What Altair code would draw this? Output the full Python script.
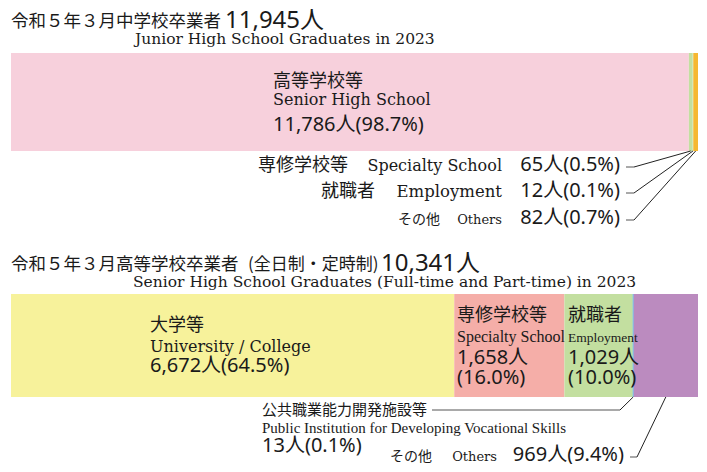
import altair as alt
import pandas as pd

# ---------------- data ----------------
jh_total = 11945
jh_categories = ["高等学校等", "専修学校等", "就職者", "その他"]
jh_categories_en = ["Senior High School", "Specialty School", "Employment", "Others"]
jh_values = [11786, 65, 12, 82]
jh_percent = [98.7, 0.5, 0.1, 0.7]
jh_colors = ["#f7d0dc", "#c3dfa0", "#c3dfa0", "#f6b731"]

hs_total = 10341
hs_categories = ["大学等", "専修学校等", "就職者", "公共職業能力開発施設等", "その他"]
hs_categories_en = ["University / College", "Specialty School", "Employment",
                    "Public Institution for Developing Vocational Skills", "Others"]
hs_values = [6672, 1658, 1029, 13, 969]
hs_percent = [64.5, 16.0, 10.0, 0.1, 9.4]
hs_colors = ["#f7f29b", "#f5aea8", "#c3dfa0", "#2aa8e0", "#bb8bbf"]

JP = "Noto Sans CJK JP"
NUM = "Noto Sans, Noto Sans CJK JP"
SERIF = "DejaVu Serif"
NSERIF = "Liberation Serif"
INK = "#1a1a1a"

# page-pixel -> chart-pixel (8px page margin, 6px top padding)
OX, OY = 8, 14


def X(x):
    return x - OX


def Y(y):
    return y - OY


def segments(values, total, colors):
    rows, acc = [], 0
    for v, c in zip(values, colors):
        rows.append({"start": acc / total, "end": (acc + v) / total,
                     "mid": (acc + v / 2) / total, "color": c})
        acc += v
    return pd.DataFrame(rows)


jh_df = segments(jh_values, jh_total, jh_colors)
hs_df = segments(hs_values, hs_total, hs_colors)

xscale = alt.Scale(domain=[0, 1], range=[X(11), X(698)])
one = pd.DataFrame({"k": [0]})


def lab(v, p):
    return f"{v:,}人({p}%)"


def txt(s, x, y, size, font=JP, align="left"):
    return alt.Chart(one).mark_text(text=s, font=font, fontSize=size, align=align,
                                    baseline="alphabetic", color=INK).encode(
        x=alt.value(X(x)), y=alt.value(Y(y)))


def seg(x1, y1, x2, y2, color="#555"):
    return alt.Chart(one).mark_rule(color=color, strokeWidth=1).encode(
        x=alt.value(X(x1)), y=alt.value(Y(y1)), x2=alt.value(X(x2)), y2=alt.value(Y(y2)))


def leader(mid, ybar, x2, y2):
    return alt.Chart(pd.DataFrame({"mid": [mid]})).mark_rule(color="#222", strokeWidth=1).encode(
        x=alt.X("mid:Q", scale=xscale, axis=None), y=alt.value(Y(ybar)),
        x2=alt.value(X(x2)), y2=alt.value(Y(y2)))


def bar(df, y1, y2):
    return alt.Chart(df).mark_rect().encode(
        x=alt.X("start:Q", scale=xscale, axis=None), x2="end:Q",
        y=alt.value(Y(y1)), y2=alt.value(Y(y2)),
        color=alt.Color("color:N", scale=None))


layers = []
# ---- junior high ----
layers.append(bar(jh_df, 53, 151))
layers += [
    txt("令和５年３月中学校卒業者", 11, 27, 17.5),
    txt(f"{jh_total:,}人", 225, 28, 24, NUM),
    txt("Junior High School Graduates in 2023", 135, 44, 15.5, SERIF),
    txt(jh_categories[0], 273, 87, 18),
    txt(jh_categories_en[0], 273, 105, 16, SERIF),
    txt(lab(jh_values[0], jh_percent[0]), 273, 131, 20, NUM),
]
rows_y = [171, 197, 224]
jp_right = [348, 375, 440]
jp_size = [18, 18, 14]
en_size = [16, 16.5, 13]
for i in range(3):
    k = i + 1
    layers += [
        txt(jh_categories[k], jp_right[i], rows_y[i], jp_size[i], align="right"),
        txt(jh_categories_en[k], 502, rows_y[i], en_size[i], SERIF, align="right"),
        txt(lab(jh_values[k], jh_percent[k]), 620, rows_y[i], 20, NUM, align="right"),
        seg(626, rows_y[i] - 4, 634, rows_y[i] - 4),
        leader(jh_df["mid"][k], 151, 634, rows_y[i] - 4),
    ]

# ---- senior high ----
layers.append(bar(hs_df, 294, 397))
layers += [
    txt("令和５年３月高等学校卒業者", 11, 270, 17.5),
    txt("(全日制・定時制)", 248, 270, 17),
    txt(f"{hs_total:,}人", 381, 271, 24, NUM),
    txt("Senior High School Graduates (Full-time and Part-time) in 2023", 133, 287, 15.5, SERIF),
    txt(hs_categories[0], 150, 331, 18),
    txt(hs_categories_en[0], 150, 352, 16, SERIF),
    txt(lab(hs_values[0], hs_percent[0]), 150, 372, 20, NUM),
    txt(hs_categories[1], 457, 321, 18),
    txt(hs_categories_en[1], 457, 342, 16, NSERIF),
    txt(f"{hs_values[1]:,}人", 457, 364, 20, NUM),
    txt(f"({hs_percent[1]}%)", 457, 384, 20, NUM),
    txt(hs_categories[2], 568, 321, 18),
    txt(hs_categories_en[2], 568, 342, 13.5, NSERIF),
    txt(f"{hs_values[2]:,}人", 568, 364, 20, NUM),
    txt(f"({hs_percent[2]}%)", 568, 384, 20, NUM),
    txt(hs_categories[3], 262, 415, 15),
    txt(hs_categories_en[3], 262, 433, 15, NSERIF),
    txt(lab(hs_values[3], hs_percent[3]), 262, 452, 20, NUM),
    seg(432, 410, 620, 410),
    leader(hs_df["mid"][3], 397, 620, 410),
    txt(hs_categories[4], 432, 461, 14, align="right"),
    txt(hs_categories_en[4], 497, 461, 13, SERIF, align="right"),
    txt(lab(hs_values[4], hs_percent[4]), 624, 461, 20, NUM, align="right"),
    seg(630, 457, 637, 457),
    leader(hs_df["mid"][4], 397, 637, 457),
]

chart = alt.layer(*layers).properties(
    width=691, height=450,
    padding={"left": 0, "top": 6, "right": 0, "bottom": 0},
    autosize=alt.AutoSizeParams(type="none"),
).configure_view(stroke=None)

chart.save("out.html", embed_options={"renderer": "svg", "actions": False})
